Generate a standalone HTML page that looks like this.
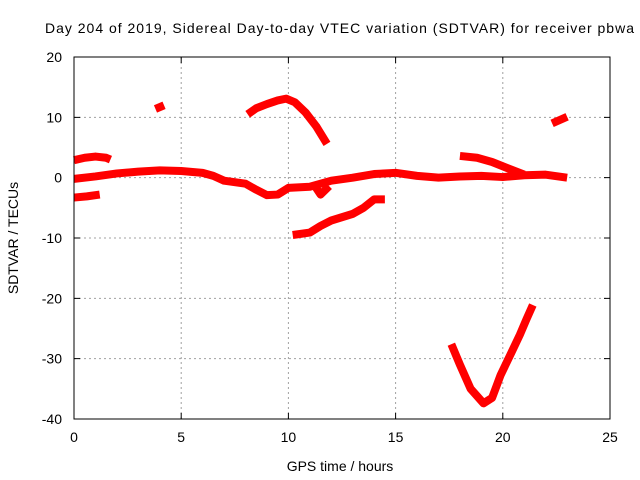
<!DOCTYPE html>
<html><head><meta charset="utf-8"><style>
body{margin:0;background:#fff}
svg{display:block;font-family:"Liberation Sans",sans-serif}
</style></head><body>
<svg id="chart" width="640" height="480" viewBox="0 0 640 480">
<text x="45" y="33" font-size="14" textLength="589" lengthAdjust="spacing">Day 204 of 2019, Sidereal Day-to-day VTEC variation (SDTVAR) for receiver pbwa</text>
<g id="grid"></g>
<g id="axes"></g>
<g id="series"></g>
<rect x="74" y="57" width="536" height="362" fill="none" stroke="#000" stroke-width="1"/>
<text x="340" y="471" font-size="14" text-anchor="middle">GPS time / hours</text>
<text transform="translate(18,238) rotate(-90)" font-size="14" text-anchor="middle">SDTVAR / TECUs</text>
</svg>
<script>
const xTicks=[0,5,10,15,20,25];
const yTicks=[20,10,0,-10,-20,-30,-40];
const arcUpperLeft=[[0,2.9],[0.5,3.3],[1,3.5],[1.5,3.3],[1.7,3.0]];
const arcLowerLeft=[[0,-3.3],[0.6,-3.1],[1.2,-2.8]];
const arcSmall=[[3.8,11.4],[4.2,12.0]];
const arcHump=[[8.1,10.5],[8.5,11.5],[9,12.2],[9.5,12.8],[9.9,13.1],[10.3,12.5],[10.8,10.8],[11.3,8.5],[11.8,5.6]];
const mainBand=[[0,-0.2],[1,0.2],[2,0.7],[3,1.0],[4,1.2],[5,1.1],[6,0.8],[6.5,0.3],[7,-0.5],[8,-1.0],[8.5,-2.0],[9,-2.9],[9.5,-2.8],[10,-1.7],[11,-1.5],[11.5,-1.0],[12,-0.5],[13,0],[14,0.6],[15,0.8],[16,0.3],[17,0],[18,0.2],[19,0.3],[20,0.1],[21,0.4],[22,0.5],[23,0]];
const arcDip=[[11.2,-1.2],[11.5,-2.8],[11.9,-1.4]];
const arcRising=[[10.2,-9.5],[11,-9.1],[11.5,-8.0],[12,-7.1],[13,-6.0],[13.5,-5.0],[14,-3.6],[14.5,-3.6]];
const arcLate=[[18,3.6],[18.8,3.3],[19.5,2.6],[20.2,1.6],[21,0.5]];
const arcLateHigh=[[22.3,9.0],[23,10.1]];
const arcV=[[17.6,-27.6],[18,-31],[18.5,-35],[19.1,-37.4],[19.5,-36.5],[19.9,-32.7],[20.4,-29],[20.8,-26],[21.1,-23.5],[21.4,-21.1]];
const allSeries=[arcUpperLeft,arcLowerLeft,arcSmall,arcHump,mainBand,arcDip,arcRising,arcLate,arcLateHigh,arcV];
const X=h=>74+h*536/25;
const Y=v=>57+(20-v)*362/60;
const NS="http://www.w3.org/2000/svg";
const grid=document.getElementById('grid'),axes=document.getElementById('axes'),ser=document.getElementById('series');
function mk(t,a){const e=document.createElementNS(NS,t);for(const k in a)e.setAttribute(k,a[k]);return e;}
xTicks.forEach(t=>{
  const x=X(t);
  if(t>0&&t<25){const g=mk('line',{x1:x,x2:x,y1:57,y2:419,stroke:'#a0a0a0','stroke-dasharray':'2,3'});
  
  grid.appendChild(g);}
  const tk=mk('path',{d:`M${x},419v-6M${x},57v6`,stroke:'#000'});
  
  axes.appendChild(tk);
  const l=mk('text',{x:x,y:442,'font-size':14,'text-anchor':'middle'});l.textContent=t;
  
  axes.appendChild(l);
});
yTicks.forEach(t=>{
  const y=Y(t);
  if(t<20&&t>-40){const g=mk('line',{x1:74,x2:610,y1:y,y2:y,stroke:'#a0a0a0','stroke-dasharray':'2,3'});
  
  grid.appendChild(g);}
  const tk=mk('path',{d:`M74,${y}h6M610,${y}h-6`,stroke:'#000'});
  
  axes.appendChild(tk);
  const l=mk('text',{x:62,y:y+5,'font-size':14,'text-anchor':'end'});l.textContent=t;
  
  axes.appendChild(l);
});
allSeries.forEach(s=>{
  const p=mk('polyline',{points:s.map(d=>X(d[0])+','+Y(d[1])).join(' '),fill:'none',stroke:'#ff0000','stroke-width':8,'stroke-linejoin':'round','stroke-linecap':'butt'});
  
  
  ser.appendChild(p);
});
</script>
</body></html>
